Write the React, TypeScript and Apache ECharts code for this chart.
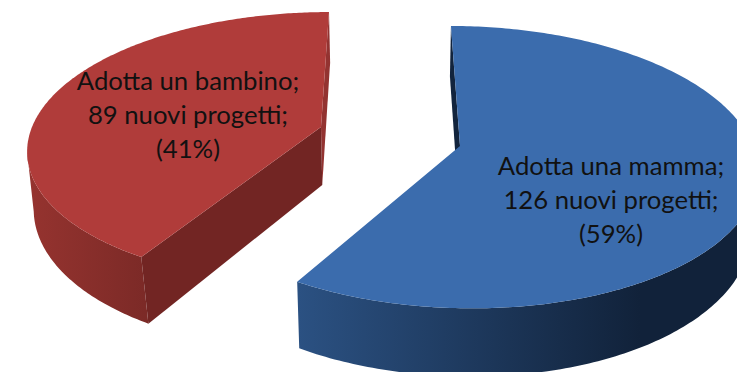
import React, { useEffect, useRef } from "react";
import * as echarts from "echarts";

// Projects data: two programmes, each with its count of new projects.
const categories = ["Adotta un bambino", "Adotta una mamma"];
const projects = [89, 126];
const unitLabel = "nuovi progetti";

// Slices sweep clockwise from twelve o'clock, the mamma slice first.
const sweepOrder = [1, 0];

// Perspective frame of each slice: apex, radii, foreshortening, shear and wall slant.
const frames = [
  { cx: 321, cy: 127, a: 289, b: 132.2, k: 0.15, m: 0, s: -9.2, driftX: 0.016, driftV: 3.5 },
  { cx: 460, cy: 146, a: 293, b: 138, k: 0.15, m: 0, s: 10.4, driftX: 0.02, driftV: 0 },
];
const wallDepth = 58;
const vanishX = 400;

const topFill = ["#b03c3a", "#3b6cad"];
const wallStops = [
  ["#95332f", "#7c2a27", 30, 145],
  ["#2b5182", "#11223a", 298, 640],
];
// Radial cut faces: the one behind the rim and, for the bambino slice, the one in front.
const backFaceFill = ["#933331", "#12243d"];
const frontFaceFill = ["#722523", null];
const labelAt = [
  { x: 188, y: 114 },
  { x: 611, y: 199 },
];

const total = projects.reduce((sum, v) => sum + v, 0);

function sweepRange(index: number): [number, number] {
  let from = 0;
  for (const i of sweepOrder) {
    const span = (projects[i] / total) * Math.PI * 2;
    if (i === index) return [from, from + span];
    from += span;
  }
  return [0, 0];
}

function renderSlice(params: any, api: any) {
  const i = params.dataIndex;
  const f = frames[i];
  const value = api.value(0);
  const [t0, t1] = sweepRange(i);

  const top = (t: number): [number, number] => {
    const u = Math.sin(t);
    const v = -Math.cos(t);
    const w = 1 - f.k * v - f.m * u;
    return [f.cx + (f.a * u + f.s * v) / w, f.cy + (f.b * v) / w];
  };
  const lower = (p: [number, number], t: number | null): [number, number] => {
    const v = t === null ? 0 : -Math.cos(t);
    const u = t === null ? 0 : Math.sin(t);
    const w = 1 - f.k * v - f.m * u;
    const slant = (vanishX - p[0]) * f.driftX + f.driftV * Math.max(v, 0);
    return [p[0] + slant, p[1] + wallDepth / w];
  };

  const steps = 240;
  const rim: [number, number][] = [];
  const rimBelow: [number, number][] = [];
  for (let n = 0; n <= steps; n++) {
    const t = t0 + ((t1 - t0) * n) / steps;
    const p = top(t);
    rim.push(p);
    rimBelow.push(lower(p, t));
  }
  const apex: [number, number] = [f.cx, f.cy];
  const apexBelow = lower(apex, null);
  const [stopA, stopB, x0, x1] = wallStops[i] as [string, string, number, number];
  const pct = Math.round((value / total) * 100);

  // The rim end nearest twelve o'clock carries the back face.
  const startsAtTop = t0 === 0;
  const backEnd = startsAtTop ? 0 : steps;
  const frontEnd = steps - backEnd;
  const frontFill = frontFaceFill[i];

  // The outer wall shows only between the side silhouette and the front end of the rim.
  let silhouette = 0;
  rim.forEach((p, n) => {
    const better = startsAtTop ? p[0] > rim[silhouette][0] : p[0] < rim[silhouette][0];
    if (better) silhouette = n;
  });
  const from = startsAtTop ? silhouette : 0;
  const to = startsAtTop ? steps : silhouette;
  const wallTop = rim.slice(from, to + 1);
  const wallBottom = rimBelow.slice(from, to + 1).reverse();

  const children: any[] = [
    {
      type: "polygon",
      shape: { points: [apex, rim[backEnd], rimBelow[backEnd], apexBelow] },
      style: { fill: backFaceFill[i] },
    },
    {
      type: "polygon",
      shape: { points: [...wallTop, ...wallBottom] },
      style: {
        fill: {
          type: "linear",
          global: true,
          x: x0,
          y: 0,
          x2: x1,
          y2: 0,
          colorStops: [
            { offset: 0, color: stopA },
            { offset: 1, color: stopB },
          ],
        },
      },
    },
  ];
  if (frontFill) {
    children.push({
      type: "polygon",
      shape: { points: [apex, rim[frontEnd], rimBelow[frontEnd], apexBelow] },
      style: { fill: frontFill },
    });
  }
  children.push(
    {
      type: "polygon",
      shape: { points: [apex, ...rim] },
      style: { fill: topFill[i] },
    },
    {
      type: "text",
      style: {
        x: labelAt[i].x,
        y: labelAt[i].y,
        text: `${categories[i]};\n${value} ${unitLabel};\n(${pct}%)`,
        align: "center",
        verticalAlign: "middle",
        fontFamily: "Lato",
        fontSize: 25.7,
        lineHeight: 34,
        fill: "#111111",
      },
    }
  );

  return { type: "group", children };
}

export default function App() {
  const ref = useRef<HTMLDivElement>(null);

  useEffect(() => {
    document.body.style.margin = "0";
    const chart = echarts.init(ref.current!, undefined, { renderer: "svg" });
    chart.setOption({
      animation: false,
      backgroundColor: "#ffffff",
      series: [
        {
          type: "custom",
          coordinateSystem: "none",
          renderItem: renderSlice,
          data: projects.map((v, i) => ({ name: categories[i], value: [v] })),
          silent: true,
        },
      ],
    });
    return () => chart.dispose();
  }, []);

  return <div ref={ref} style={{ width: 737, height: 372, overflow: "hidden" }} />;
}
